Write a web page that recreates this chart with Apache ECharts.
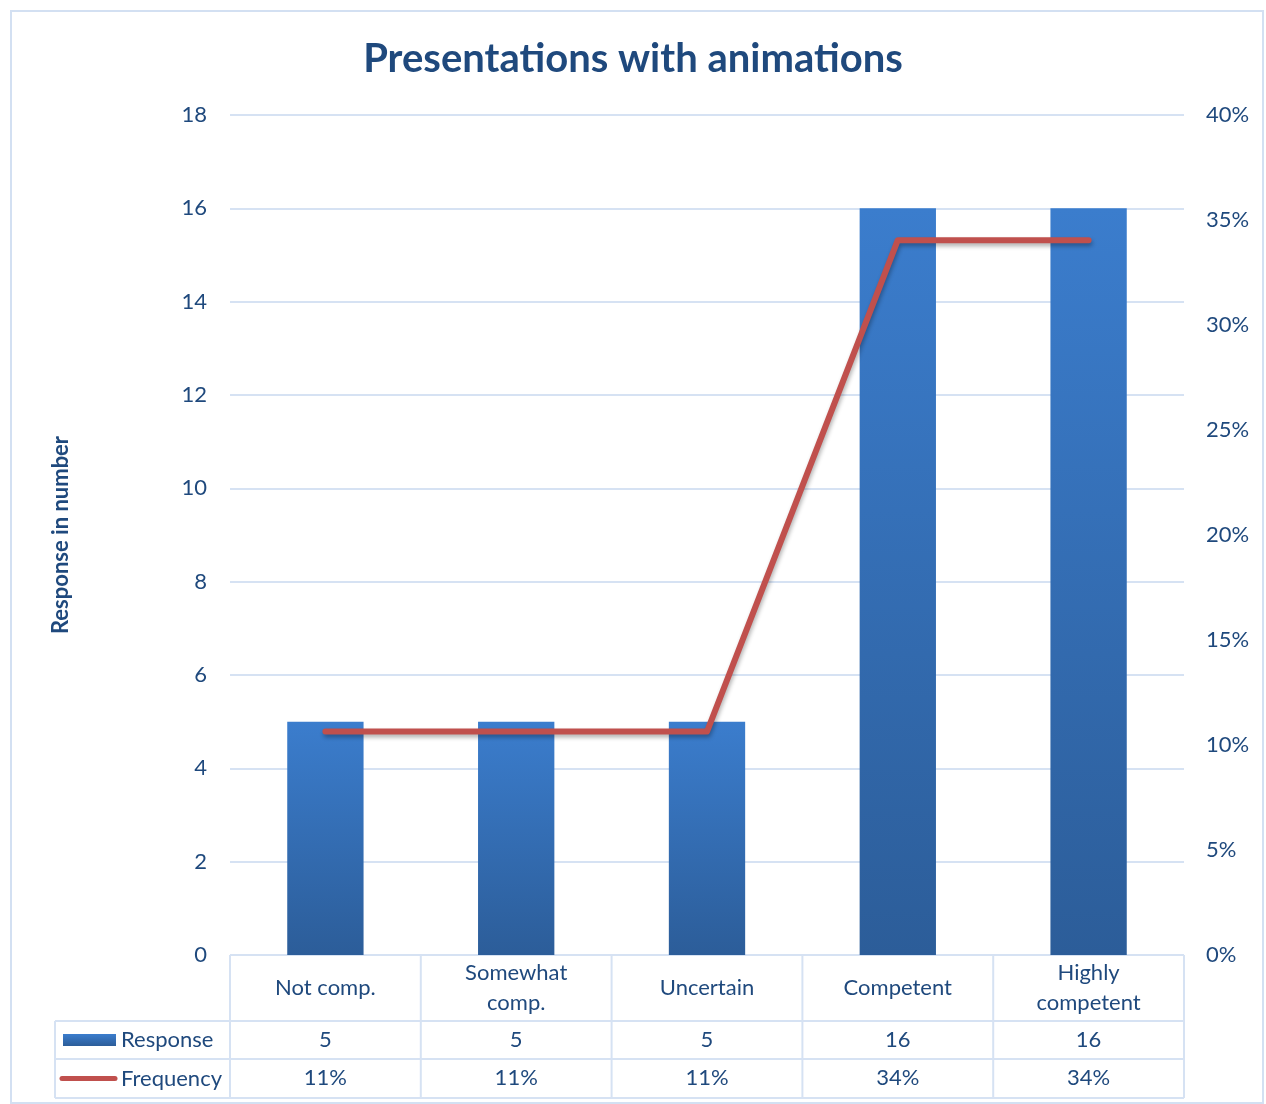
<!DOCTYPE html>
<html>
<head>
<meta charset="utf-8">
<script src="https://cdn.jsdelivr.net/npm/echarts@6/dist/echarts.min.js"></script>
<style>
html,body{margin:0;padding:0;background:#fff;}
#c{width:1266px;height:1104px;}
</style>
</head>
<body>
<div id="c"></div>
<script>
const categories = ['Not comp.', 'Somewhat\ncomp.', 'Uncertain', 'Competent', 'Highly\ncompetent'];
const responses = [5, 5, 5, 16, 16];
const frequency = [10.64, 10.64, 10.64, 34.04, 34.04];
const frequencyLabels = ['11%', '11%', '11%', '34%', '34%'];
const leftTicks = {min: 0, max: 18, interval: 2};
const rightTicks = {min: 0, max: 40, interval: 5};

const TXT = '#1F497D';
const FONT = 'Lato, "Open Sans", sans-serif';
const LINE = '#D6E2F3';
const FS = 22;
const G = {left: 230, right: 82, top: 115, bottom: 149};
const W = 1266, H = 1104;
const rowY = [955, 1021, 1059, 1098];
const tableLeft = 55;

const chart = echarts.init(document.getElementById('c'));
const option = {
  animation: false,
  backgroundColor: '#fff',
  title: {
    text: 'Presentations with animations',
    left: 'center', top: 34,
    textStyle: {color: TXT, fontFamily: FONT, fontWeight: 'bold', fontSize: 40}
  },
  grid: G,
  xAxis: [
    {type: 'category', data: categories, gridIndex: 0,
     axisLine: {show: false}, axisTick: {show: false}, splitLine: {show: false},
     axisLabel: {color: TXT, fontFamily: FONT, fontSize: FS, lineHeight: 30, margin: 33, verticalAlign: 'middle', interval: 0}},
    {type: 'category', data: categories, gridIndex: 0, position: 'bottom',
     axisLine: {show: false}, axisTick: {show: false}, splitLine: {show: false},
     axisLabel: {color: TXT, fontFamily: FONT, fontSize: FS, margin: 85, verticalAlign: 'middle', interval: 0,
                 formatter: (v, i) => String(responses[i])}},
    {type: 'category', data: categories, gridIndex: 0, position: 'bottom',
     axisLine: {show: false}, axisTick: {show: false}, splitLine: {show: false},
     axisLabel: {color: TXT, fontFamily: FONT, fontSize: FS, margin: 123, verticalAlign: 'middle', interval: 0,
                 formatter: (v, i) => frequencyLabels[i]}}
  ],
  yAxis: [
    {type: 'value', min: leftTicks.min, max: leftTicks.max, interval: leftTicks.interval,
     name: 'Response in number', nameLocation: 'middle', nameGap: 158, nameRotate: 90,
     nameTextStyle: {color: TXT, fontFamily: FONT, fontSize: FS, fontWeight: 'bold'},
     axisLine: {show: false}, axisTick: {show: false},
     axisLabel: {color: TXT, fontFamily: FONT, fontSize: FS, margin: 23},
     splitLine: {lineStyle: {color: LINE, width: 2}}},
    {type: 'value', min: rightTicks.min, max: rightTicks.max, interval: rightTicks.interval,
     position: 'right',
     axisLine: {show: false}, axisTick: {show: false}, splitLine: {show: false},
     axisLabel: {color: TXT, fontFamily: FONT, fontSize: FS, margin: 22, formatter: '{value}%'}}
  ],
  series: [
    {name: 'Response', type: 'bar', xAxisIndex: 0, yAxisIndex: 0, data: responses, barWidth: '40%',
     itemStyle: {
       color: new echarts.graphic.LinearGradient(0, 0, 0, 1, [
         {offset: 0, color: '#3B7DCD'}, {offset: 1, color: '#2C5D99'}]),
       shadowColor: 'rgba(0,0,0,0.25)', shadowBlur: 4, shadowOffsetX: 1, shadowOffsetY: 2
     }},
    {name: 'Frequency', type: 'line', xAxisIndex: 0, yAxisIndex: 1, data: frequency,
     symbol: 'none', z: 5,
     lineStyle: {color: '#C0504D', width: 6, cap: 'round', join: 'round',
                 shadowColor: 'rgba(0,0,0,0.3)', shadowBlur: 4, shadowOffsetX: 1, shadowOffsetY: 3}}
  ]
};
chart.setOption(option);

// table lines derived from the category axis scale
const half = (chart.convertToPixel({xAxisIndex: 0}, 1) - chart.convertToPixel({xAxisIndex: 0}, 0)) / 2;
const bounds = categories.map((c, i) => chart.convertToPixel({xAxisIndex: 0}, i) - half);
bounds.push(chart.convertToPixel({xAxisIndex: 0}, categories.length - 1) + half);
const right = bounds[bounds.length - 1];
const gfx = [];
gfx.push({type: 'rect', shape: {x: 11, y: 11, width: W - 14, height: H - 12},
          style: {fill: 'none', stroke: '#D3E0F2', lineWidth: 2}, silent: true});
gfx.push({type: 'line', shape: {x1: bounds[0], y1: rowY[0], x2: right, y2: rowY[0]}, style: {stroke: LINE, lineWidth: 2}});
for (let r = 1; r < rowY.length; r++) {
  gfx.push({type: 'line', shape: {x1: tableLeft, y1: rowY[r], x2: right, y2: rowY[r]}, style: {stroke: LINE, lineWidth: 2}});
}
bounds.forEach(x => gfx.push({type: 'line', shape: {x1: x, y1: rowY[0], x2: x, y2: rowY[3]}, style: {stroke: LINE, lineWidth: 2}}));
gfx.push({type: 'line', shape: {x1: tableLeft, y1: rowY[1], x2: tableLeft, y2: rowY[3]}, style: {stroke: LINE, lineWidth: 2}});
// legend keys
const y1 = (rowY[1] + rowY[2]) / 2, y2 = (rowY[2] + rowY[3]) / 2;
gfx.push({type: 'rect', shape: {x: 63, y: y1 - 6, width: 53, height: 12},
          style: {fill: new echarts.graphic.LinearGradient(0, 0, 0, 1, [{offset: 0, color: '#3B7DCD'}, {offset: 1, color: '#2C5D99'}])}});
gfx.push({type: 'text', x: 121, y: y1, style: {text: 'Response', fill: TXT, font: FS + 'px ' + FONT, textVerticalAlign: 'middle', verticalAlign: 'middle'}});
gfx.push({type: 'line', shape: {x1: 62, y1: y2, x2: 115, y2: y2}, style: {stroke: '#C0504D', lineWidth: 5, lineCap: 'round'}});
gfx.push({type: 'text', x: 121, y: y2, style: {text: 'Frequency', fill: TXT, font: FS + 'px ' + FONT, textVerticalAlign: 'middle', verticalAlign: 'middle'}});
chart.setOption({graphic: gfx});
</script>
</body>
</html>
